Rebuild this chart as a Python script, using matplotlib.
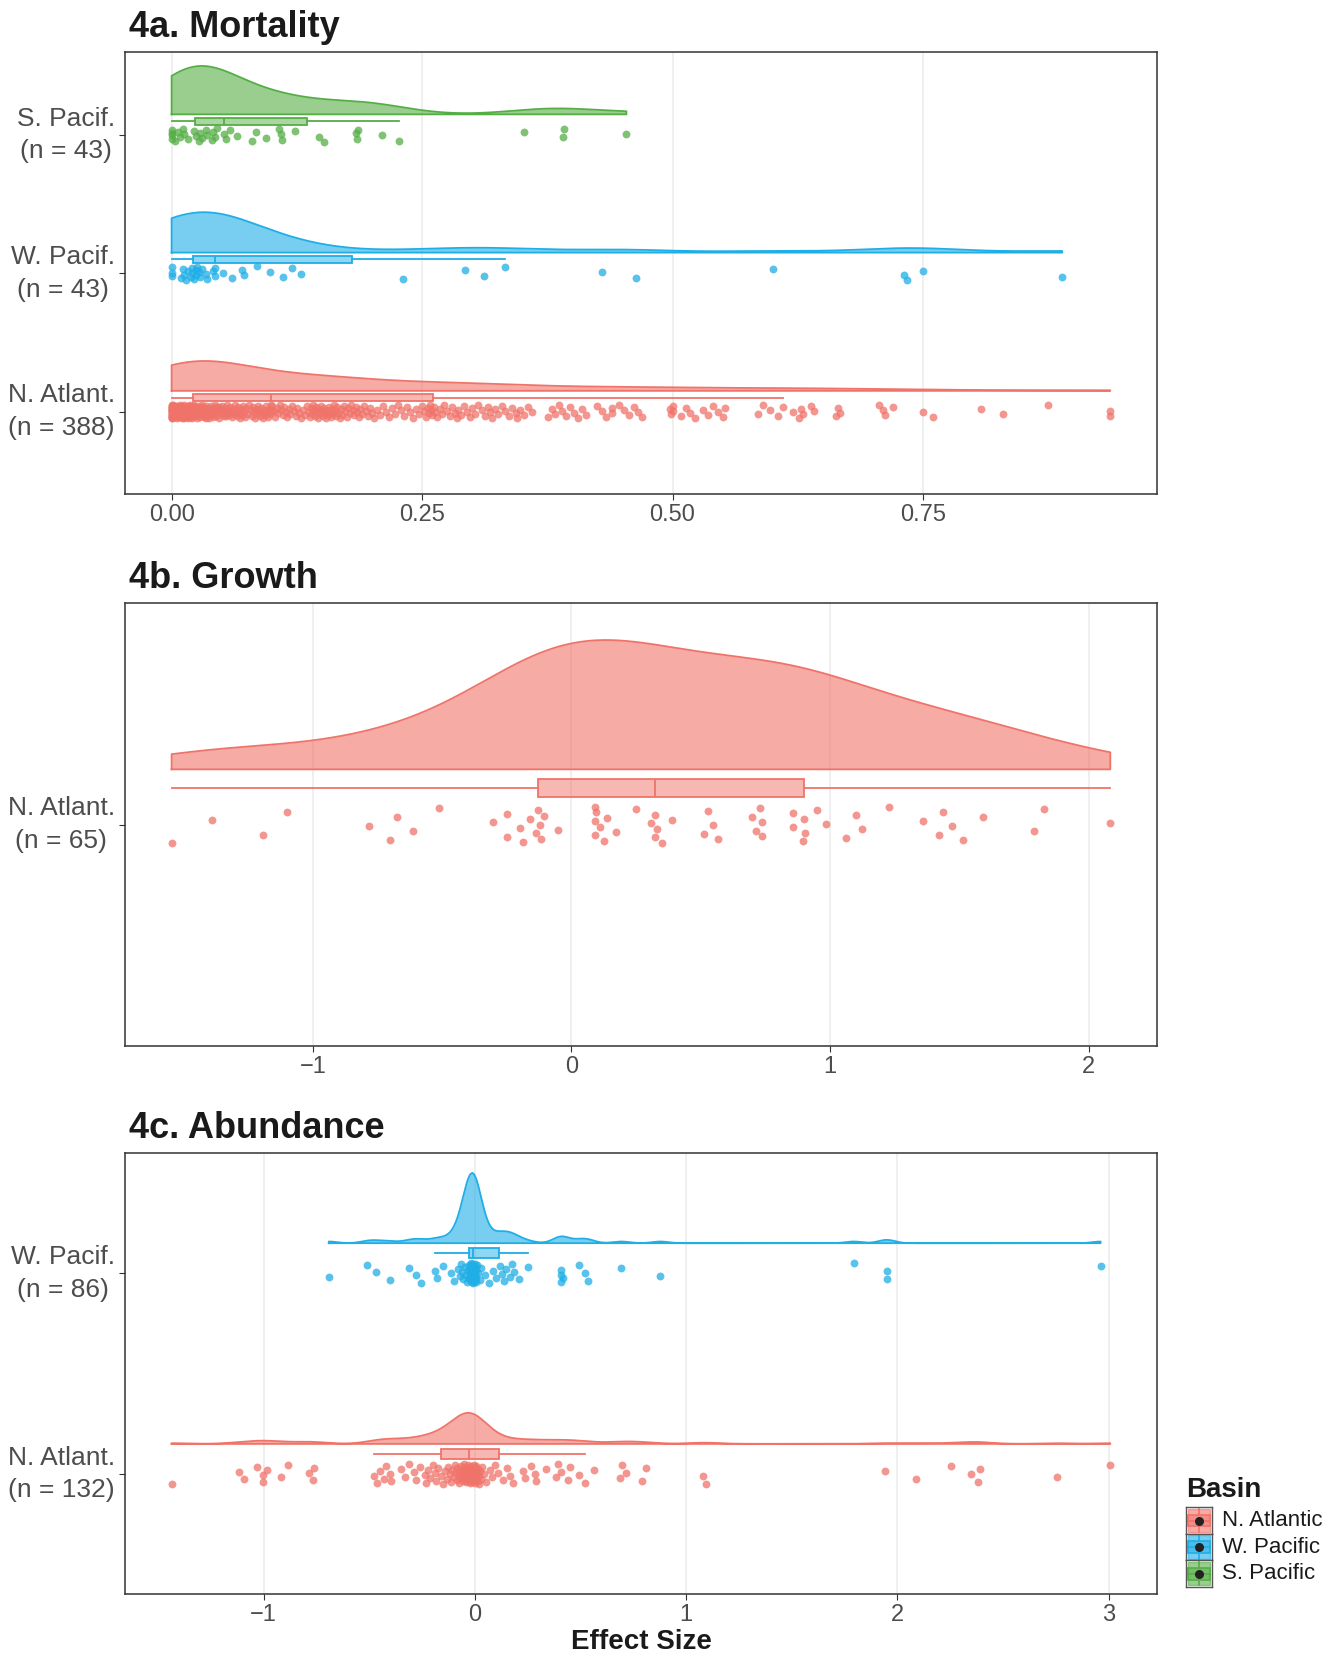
import numpy as np
import matplotlib
matplotlib.use("Agg")
import matplotlib.pyplot as plt
from matplotlib.patches import Rectangle

plt.rcParams['font.family'] = ['Liberation Sans', 'DejaVu Sans']

# basins / colours (N. Atlantic, W. Pacific, S. Pacific)
basin_names = ['N. Atlantic', 'W. Pacific', 'S. Pacific']
basin_colors = ['#F0736A', '#1FAEE6', '#55AE45']

# ---- 4a. Mortality ----
mort_labels = ['N. Atlant.\n(n = 388)', 'W. Pacif.\n(n = 43)', 'S. Pacif.\n(n = 43)']
mort_ticks = [0, 0.25, 0.5, 0.75]
mort_ticklabels = ['0.00', '0.25', '0.50', '0.75']

mort_natl = [
    0, 0, 0, 0, 0, 0, 0, 0, 0, 0, 0, 0, 0, 0, 0, 0, 0, 0, 0, 0,
    0.001, 0.001, 0.001, 0.002, 0.002, 0.002, 0.003, 0.003, 0.003, 0.004,
    0.004, 0.004, 0.005, 0.005, 0.005, 0.006, 0.006, 0.006, 0.007, 0.007,
    0.007, 0.008, 0.008, 0.008, 0.009, 0.009, 0.009, 0.010, 0.010, 0.010,
    0.010, 0.011, 0.011, 0.011, 0.012, 0.012, 0.012, 0.013, 0.013, 0.013,
    0.014, 0.014, 0.014, 0.015, 0.015, 0.015, 0.015, 0.016, 0.016, 0.016,
    0.017, 0.017, 0.017, 0.018, 0.018, 0.018, 0.018, 0.019, 0.019, 0.019,
    0.020, 0.020, 0.020, 0.020, 0.021, 0.021, 0.021, 0.021, 0.015, 0.012,
    0.009, 0.006, 0.004, 0.002, 0.018, 0.019, 0.020,
    0.022, 0.023, 0.023, 0.024, 0.025, 0.025, 0.026, 0.026, 0.027, 0.027,
    0.028, 0.028, 0.029, 0.030, 0.030, 0.031, 0.031, 0.032, 0.032, 0.033,
    0.033, 0.034, 0.035, 0.035, 0.036, 0.036, 0.037, 0.038, 0.038, 0.039,
    0.040, 0.041, 0.041, 0.042, 0.043, 0.044, 0.044, 0.045, 0.046, 0.047,
    0.048, 0.049, 0.050, 0.051, 0.052, 0.053, 0.054, 0.055, 0.056, 0.057,
    0.058, 0.059, 0.060, 0.061, 0.062, 0.063, 0.064, 0.065, 0.066, 0.067,
    0.068, 0.069, 0.070, 0.071, 0.072, 0.073, 0.074, 0.076, 0.077, 0.079,
    0.080, 0.081, 0.082, 0.083, 0.084, 0.085, 0.086, 0.087, 0.088, 0.089,
    0.090, 0.091, 0.092, 0.093, 0.094, 0.095, 0.096, 0.097, 0.098, 0.099,
    0.099, 0.054, 0.047, 0.039, 0.034, 0.029, 0.024,
    0.100, 0.102, 0.103, 0.105, 0.106, 0.108, 0.109, 0.111, 0.112, 0.114,
    0.115, 0.117, 0.118, 0.120, 0.122, 0.124, 0.125, 0.127, 0.129, 0.131,
    0.133, 0.135, 0.137, 0.138, 0.139, 0.140, 0.141, 0.142, 0.143, 0.144,
    0.145, 0.146, 0.147, 0.148, 0.149, 0.150, 0.151, 0.152, 0.153, 0.154,
    0.155, 0.156, 0.157, 0.158, 0.159, 0.160, 0.161, 0.162, 0.163, 0.164,
    0.165, 0.166, 0.168, 0.169, 0.170, 0.172, 0.173, 0.175, 0.176, 0.178,
    0.179, 0.181, 0.182, 0.184, 0.185, 0.187, 0.188, 0.190, 0.192, 0.194,
    0.196, 0.198, 0.200, 0.202, 0.205, 0.208, 0.211, 0.214, 0.217, 0.220,
    0.223, 0.226, 0.229, 0.232, 0.235, 0.238, 0.241, 0.244, 0.247, 0.250,
    0.252, 0.254, 0.256, 0.257, 0.258, 0.259, 0.260,
    0.262, 0.263, 0.265, 0.268, 0.270, 0.272, 0.275, 0.278, 0.280, 0.283,
    0.285, 0.286, 0.289, 0.292, 0.295, 0.298, 0.300, 0.303, 0.306, 0.310,
    0.313, 0.316, 0.318, 0.320, 0.323, 0.326, 0.330, 0.333, 0.337, 0.340,
    0.344, 0.345, 0.348, 0.352, 0.356, 0.360, 0.376, 0.380, 0.383, 0.387,
    0.390, 0.394, 0.398, 0.402, 0.406, 0.410, 0.414, 0.425, 0.430, 0.434,
    0.440, 0.440, 0.447, 0.452, 0.457, 0.462, 0.466, 0.470, 0.497, 0.498,
    0.500, 0.500, 0.508, 0.513, 0.517, 0.522, 0.530, 0.535, 0.540, 0.545,
    0.550, 0.552, 0.585, 0.590, 0.597, 0.605, 0.610, 0.620, 0.626, 0.628,
    0.630, 0.638, 0.641, 0.663, 0.665, 0.667, 0.706, 0.710, 0.712, 0.720,
    0.750, 0.760, 0.808, 0.830, 0.875, 0.937, 0.937,
]
mort_wpac = [
    0.0, 0.0, 0.0007, 0.009, 0.0113, 0.0123, 0.014, 0.016, 0.019, 0.020,
    0.0206, 0.022, 0.024, 0.0246, 0.025, 0.027, 0.028, 0.030, 0.034, 0.0356,
    0.0416, 0.043, 0.0432, 0.0515, 0.060, 0.070, 0.072, 0.0854, 0.0987, 0.111,
    0.120, 0.1287, 0.231, 0.293, 0.312, 0.333, 0.430, 0.464, 0.600, 0.731,
    0.734, 0.750, 0.889,
]
mort_spac = [
    0.0, 0.0, 0.0, 0.0007, 0.003, 0.0066, 0.008, 0.0113, 0.012, 0.016,
    0.022, 0.024, 0.027, 0.028, 0.030, 0.034, 0.0356, 0.040, 0.0416, 0.0429,
    0.0455, 0.052, 0.054, 0.058, 0.0655, 0.080, 0.084, 0.094, 0.107, 0.109,
    0.110, 0.123, 0.147, 0.152, 0.184, 0.185, 0.186, 0.210, 0.227, 0.352,
    0.391, 0.392, 0.454,
]

# ---- 4b. Growth ----
growth_labels = ['N. Atlant.\n(n = 65)']
growth_ticks = [-1, 0, 1, 2]
growth_ticklabels = ['\u22121', '0', '1', '2']
growth_natl = [
    -1.546, -1.391, -1.191, -1.101, -0.782, -0.703, -0.674, -0.612, -0.513, -0.303,
    -0.248, -0.248, -0.197, -0.186, -0.160, -0.135, -0.130, -0.122, -0.116, -0.106,
    -0.051, 0.090, 0.093, 0.093, 0.097, 0.110, 0.125, 0.136, 0.173, 0.248,
    0.306, 0.323, 0.325, 0.332, 0.351, 0.390, 0.513, 0.529, 0.546, 0.565,
    0.697, 0.712, 0.729, 0.736, 0.738, 0.857, 0.858, 0.897, 0.899, 0.902,
    0.949, 0.983, 1.063, 1.100, 1.125, 1.230, 1.358, 1.420, 1.438, 1.470,
    1.513, 1.590, 1.789, 1.827, 2.084,
]

# ---- 4c. Abundance ----
abund_labels = ['N. Atlant.\n(n = 132)', 'W. Pacif.\n(n = 86)']
abund_ticks = [-1, 0, 1, 2, 3]
abund_ticklabels = ['\u22121', '0', '1', '2', '3']
abund_natl = [
    -1.435, -1.115, -1.093, -1.030, -1.002, -1.002, -0.983, -0.918, -0.883, -0.784,
    -0.768, -0.762, -0.478, -0.463, -0.447, -0.430, -0.418, -0.403, -0.395, -0.351,
    -0.330, -0.313, -0.289, -0.280, -0.260, -0.237, -0.229, -0.221, -0.210, -0.198,
    -0.190, -0.182, -0.174,
    -0.158, -0.150, -0.142, -0.131, -0.125, -0.118, -0.112, -0.106, -0.100, -0.095,
    -0.090, -0.086, -0.082, -0.078, -0.074, -0.070, -0.067, -0.064, -0.061, -0.058,
    -0.055, -0.052, -0.050, -0.048, -0.046, -0.044, -0.042, -0.040, -0.038, -0.036,
    -0.034, -0.032, -0.030,
    -0.026, -0.024, -0.022, -0.020, -0.018, -0.016, -0.014, -0.012, -0.010, -0.008,
    -0.006, -0.004, -0.002, 0.0, 0.0, 0.002, 0.004, 0.006, 0.008, 0.010,
    0.013, 0.016, 0.019, 0.022, 0.026, 0.030, 0.035, 0.043, 0.055, 0.070,
    0.082, 0.094, 0.110,
    0.133, 0.154, 0.168, 0.180, 0.228, 0.240, 0.267, 0.286, 0.291, 0.335,
    0.385, 0.393, 0.409, 0.440, 0.453, 0.491, 0.522, 0.563, 0.685, 0.696,
    0.716, 0.792, 0.811, 1.078, 1.093, 1.940, 2.090, 2.256, 2.350, 2.380,
    2.390, 2.756, 3.008,
]
abund_wpac = [
    -0.691, -0.508, -0.466, -0.403, -0.313, -0.280, -0.255, -0.190, -0.177, -0.150,
    -0.111, -0.100, -0.079, -0.072, -0.064, -0.060, -0.056, -0.048, -0.040, -0.035,
    -0.032,
    -0.029, -0.027, -0.025, -0.024, -0.022, -0.021, -0.020, -0.019, -0.018, -0.017,
    -0.016, -0.015, -0.014, -0.013, -0.012, -0.011, -0.010, -0.010, -0.009, -0.009,
    -0.008, -0.008,
    -0.007, -0.005, -0.004, -0.003, -0.002, -0.001, 0.0, 0.0, 0.001, 0.002,
    0.004, 0.006, 0.008, 0.012, 0.015, 0.023, 0.031, 0.046, 0.065, 0.086,
    0.100,
    0.117, 0.129, 0.138, 0.150, 0.165, 0.176, 0.185, 0.207, 0.252, 0.406,
    0.406, 0.410, 0.418, 0.491, 0.524, 0.535, 0.693, 0.878, 1.793, 1.950,
    1.950, 2.962,
]

GRID = '#EBEBEB'
DARK = '#333333'
TXT = '#4D4D4D'


def nrd0(v):
    q75, q25 = np.percentile(v, [75, 25])
    lo = min(v.std(ddof=1), (q75 - q25) / 1.34)
    return 0.9 * lo * len(v) ** -0.2


def kde(v, grid):
    bw = nrd0(v)
    z = (grid[:, None] - v[None, :]) / bw
    return np.exp(-0.5 * z ** 2).sum(1) / (len(v) * bw * np.sqrt(2 * np.pi))


def raincloud(ax, groups, colors, labels, ticks, ticklabels, title):
    grids, dens = [], []
    for vals in groups:
        v = np.asarray(vals, float)
        g = np.linspace(v.min(), v.max(), 512)
        grids.append(g)
        dens.append(kde(v, g))
    top = max(d.max() for d in dens)

    for k, (vals, col) in enumerate(zip(groups, colors)):
        pos = k + 1
        v = np.asarray(vals, float)
        g = grids[k]
        h = dens[k] / top * 0.35
        base = pos + 0.15
        ax.fill_between(g, base, base + h, color=col, alpha=0.6, lw=0, zorder=2)
        ax.plot(np.r_[g[0], g, g[-1], g[0]], np.r_[base, base + h, base, base],
                color=col, lw=1.3, zorder=3)

        bp = ax.boxplot(v, vert=False, positions=[pos + 0.1], widths=0.05,
                        showfliers=False, showcaps=False, patch_artist=True,
                        manage_ticks=False, zorder=3)
        for b in bp['boxes']:
            b.set_facecolor(matplotlib.colors.to_rgba(col, 0.5))
            b.set_edgecolor(col)
            b.set_linewidth(1.3)
        for ln in bp['whiskers'] + bp['medians']:
            ln.set_color(col)
            ln.set_linewidth(1.3)

        idx = np.arange(len(v))
        jit = ((idx * 0.6180339887 + 0.31 * k) % 1.0 - 0.5) * 0.1
        ax.scatter(v, pos + jit, s=32, color=col, alpha=0.75, lw=0, zorder=4)

    allv = np.concatenate([np.asarray(g) for g in groups])
    span = allv.max() - allv.min()
    ax.set_xlim(allv.min() - 0.05 * span, allv.max() + 0.05 * span)
    ax.set_ylim(0.4, len(groups) + 0.6)
    ax.set_xticks(ticks)
    ax.set_xticklabels(ticklabels)
    ax.set_yticks(range(1, len(groups) + 1))
    ax.set_yticklabels(labels, multialignment='center', linespacing=1.45, va='center')
    ax.grid(axis='x', color=GRID, lw=1.1, zorder=0)
    ax.set_axisbelow(True)
    for s in ax.spines.values():
        s.set_color(DARK)
        s.set_linewidth(1.1)
    ax.tick_params(axis='x', labelsize=17, colors=DARK, labelcolor=TXT, length=4, pad=3)
    ax.tick_params(axis='y', labelsize=19, colors=DARK, labelcolor=TXT, length=4, pad=3)
    ax.annotate(title, xy=(0, 1), xycoords='axes fraction', xytext=(3, 11),
                textcoords='offset points', fontsize=26, fontweight='bold',
                color='#1A1A1A', va='baseline', ha='left')


fig = plt.figure(figsize=(13.32, 16.66), dpi=100)
L, W = 0.0936, 0.8688 - 0.0936
ax_a = fig.add_axes([L, 0.7032, W, 0.9687 - 0.7032])
ax_b = fig.add_axes([L, 0.3719, W, 0.6380 - 0.3719])
ax_c = fig.add_axes([L, 0.0430, W, 0.3080 - 0.0430])

raincloud(ax_a, [mort_natl, mort_wpac, mort_spac], basin_colors, mort_labels,
          mort_ticks, mort_ticklabels, '4a. Mortality')
raincloud(ax_b, [growth_natl], basin_colors[:1], growth_labels,
          growth_ticks, growth_ticklabels, '4b. Growth')
raincloud(ax_c, [abund_natl, abund_wpac], basin_colors[:2], abund_labels,
          abund_ticks, abund_ticklabels, '4c. Abundance')
ax_c.set_xlabel('Effect Size', fontsize=20, fontweight='bold', color='#1A1A1A', labelpad=2)

# legend drawn by hand: boxplot-style key glyphs
fig.text(0.8904, 0.1058, 'Basin', fontsize=20, fontweight='bold', color='#1A1A1A',
         ha='left', va='center')
kw, kh = 25.6 / 1332, 26.6 / 1666
kx = 0.8904
for i, (name, col) in enumerate(zip(basin_names, basin_colors)):
    cy = 0.0873 - i * kh
    lax = fig.add_axes([kx, cy - kh / 2, kw, kh])
    lax.set_xlim(0, 1)
    lax.set_ylim(0, 1)
    lax.set_xticks([])
    lax.set_yticks([])
    for s in lax.spines.values():
        s.set_color('#555555')
        s.set_linewidth(1.0)
    lax.add_patch(Rectangle((0.08, 0.06), 0.84, 0.88, fc=col, alpha=0.6, ec=col, lw=1.0))
    lax.add_patch(Rectangle((0.08, 0.28), 0.84, 0.44, fc=matplotlib.colors.to_rgba(col, 0.5),
                            ec=col, lw=1.2))
    lax.plot([0.5, 0.5], [0.06, 0.28], color=col, lw=1.2)
    lax.plot([0.5, 0.5], [0.72, 0.94], color=col, lw=1.2)
    lax.plot([0.08, 0.92], [0.5, 0.5], color=col, lw=1.2)
    lax.scatter([0.5], [0.5], s=30, color='#222222', zorder=5)
    fig.text(0.9174, cy, name, fontsize=16, color='#1A1A1A', ha='left', va='center')

fig.savefig('out.png', dpi=100)
